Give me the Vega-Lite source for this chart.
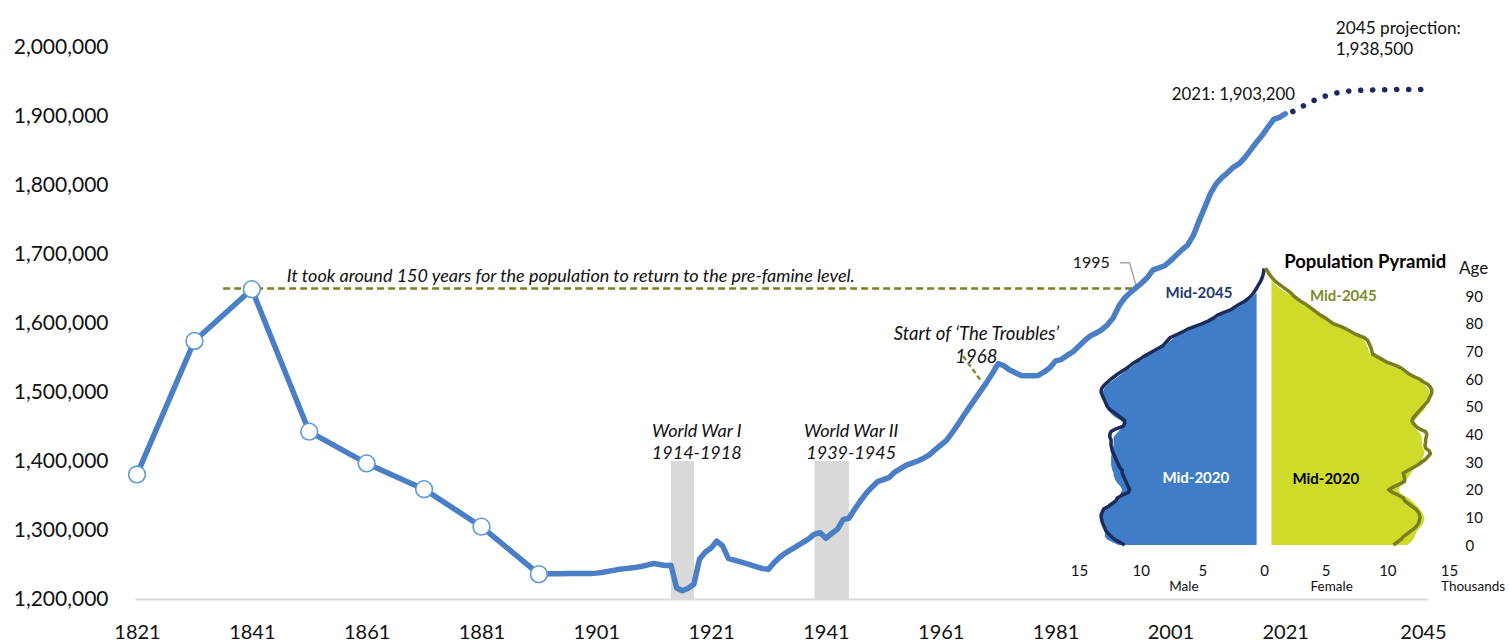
{
"$schema": "https://vega.github.io/schema/vega-lite/v6.json",
"width": 1292, "height": 552,
"autosize": {"type": "none"},
"padding": {"left": 135, "top": 47, "right": 82, "bottom": 42},
"background": "white",
"config": {"view": {"stroke": null}, "font": "Lato", "axis": {"grid": false, "labelFont": "Lato", "labelColor": "#111111"}, "text": {"font": "Lato", "color": "#111111"}},
"datasets": {
"wars": [{"war": "WWI", "start": 1914, "end": 1918}, {"war": "WWII", "start": 1939, "end": 1945}],
"pop": [
{"year":1821,"pop":1380500},{"year":1831,"pop":1574000},{"year":1841,"pop":1649000},{"year":1851,"pop":1442500},{"year":1861,"pop":1396500},{"year":1871,"pop":1359200},{"year":1881,"pop":1304800},{"year":1891,"pop":1236000},
{"year":1892,"pop":1236300},{"year":1893,"pop":1236500},{"year":1894,"pop":1236500},{"year":1895,"pop":1236700},{"year":1896,"pop":1236800},{"year":1897,"pop":1236900},{"year":1898,"pop":1237000},{"year":1899,"pop":1237000},{"year":1900,"pop":1237000},
{"year":1901,"pop":1237500},{"year":1902,"pop":1238500},{"year":1903,"pop":1240000},{"year":1904,"pop":1241500},{"year":1905,"pop":1243000},{"year":1906,"pop":1244000},{"year":1907,"pop":1245000},{"year":1908,"pop":1246000},{"year":1909,"pop":1247500},{"year":1910,"pop":1249500},
{"year":1911,"pop":1251500},{"year":1912,"pop":1250000},{"year":1913,"pop":1248500},{"year":1914,"pop":1249000},{"year":1915,"pop":1216000},{"year":1916,"pop":1212000},{"year":1917,"pop":1215500},{"year":1918,"pop":1221500},{"year":1919,"pop":1258000},{"year":1920,"pop":1268000},
{"year":1921,"pop":1274000},{"year":1922,"pop":1284000},{"year":1923,"pop":1277000},{"year":1924,"pop":1259000},{"year":1925,"pop":1256500},{"year":1926,"pop":1254000},{"year":1927,"pop":1251500},{"year":1928,"pop":1249000},{"year":1929,"pop":1246500},{"year":1930,"pop":1244000},
{"year":1931,"pop":1243000},{"year":1932,"pop":1253000},{"year":1933,"pop":1261000},{"year":1934,"pop":1267000},{"year":1935,"pop":1272000},{"year":1936,"pop":1277000},{"year":1937,"pop":1282000},{"year":1938,"pop":1287000},{"year":1939,"pop":1294000},{"year":1940,"pop":1296000},
{"year":1941,"pop":1288000},{"year":1942,"pop":1295000},{"year":1943,"pop":1301000},{"year":1944,"pop":1315000},{"year":1945,"pop":1317000},{"year":1946,"pop":1330000},{"year":1947,"pop":1342000},{"year":1948,"pop":1353000},{"year":1949,"pop":1362000},{"year":1950,"pop":1370000},
{"year":1951,"pop":1373000},{"year":1952,"pop":1376000},{"year":1953,"pop":1384000},{"year":1954,"pop":1389000},{"year":1955,"pop":1394000},{"year":1956,"pop":1397000},{"year":1957,"pop":1400000},{"year":1958,"pop":1404000},{"year":1959,"pop":1409000},{"year":1960,"pop":1416000},
{"year":1961,"pop":1423000},{"year":1962,"pop":1430000},{"year":1963,"pop":1441000},{"year":1964,"pop":1453000},{"year":1965,"pop":1466000},{"year":1966,"pop":1478000},{"year":1967,"pop":1490000},{"year":1968,"pop":1502000},{"year":1969,"pop":1514000},{"year":1970,"pop":1527000},
{"year":1971,"pop":1541000},{"year":1972,"pop":1538000},{"year":1973,"pop":1532000},{"year":1974,"pop":1528000},{"year":1975,"pop":1524000},{"year":1976,"pop":1523500},{"year":1977,"pop":1523500},{"year":1978,"pop":1524000},{"year":1979,"pop":1529000},{"year":1980,"pop":1535000},
{"year":1981,"pop":1545000},{"year":1982,"pop":1547000},{"year":1983,"pop":1553000},{"year":1984,"pop":1558000},{"year":1985,"pop":1566000},{"year":1986,"pop":1574000},{"year":1987,"pop":1581000},{"year":1988,"pop":1585000},{"year":1989,"pop":1590000},{"year":1990,"pop":1597000},
{"year":1991,"pop":1607000},{"year":1992,"pop":1624000},{"year":1993,"pop":1636000},{"year":1994,"pop":1644000},{"year":1995,"pop":1651000},{"year":1996,"pop":1658000},{"year":1997,"pop":1666000},{"year":1998,"pop":1677000},{"year":1999,"pop":1680000},{"year":2000,"pop":1683000},
{"year":2001,"pop":1690000},{"year":2002,"pop":1698000},{"year":2003,"pop":1706000},{"year":2004,"pop":1713000},{"year":2005,"pop":1727000},{"year":2006,"pop":1748000},{"year":2007,"pop":1768000},{"year":2008,"pop":1788000},{"year":2009,"pop":1802000},{"year":2010,"pop":1811000},
{"year":2011,"pop":1818000},{"year":2012,"pop":1826000},{"year":2013,"pop":1831000},{"year":2014,"pop":1840000},{"year":2015,"pop":1851000},{"year":2016,"pop":1862000},{"year":2017,"pop":1872000},{"year":2018,"pop":1884000},{"year":2019,"pop":1895000},{"year":2020,"pop":1898000},
{"year":2021,"pop":1903200}
],
"proj": [
{"year":2021,"pop":1903200},{"year":2022,"pop":1905000},{"year":2023,"pop":1909500},{"year":2024,"pop":1914000},{"year":2025,"pop":1918500},{"year":2026,"pop":1922500},{"year":2027,"pop":1926000},{"year":2028,"pop":1929000},{"year":2029,"pop":1931500},{"year":2030,"pop":1933500},
{"year":2031,"pop":1935000},{"year":2032,"pop":1936000},{"year":2033,"pop":1936800},{"year":2034,"pop":1937300},{"year":2035,"pop":1937600},{"year":2036,"pop":1937800},{"year":2037,"pop":1938000},{"year":2038,"pop":1938100},{"year":2039,"pop":1938200},{"year":2040,"pop":1938300},
{"year":2041,"pop":1938300},{"year":2042,"pop":1938400},{"year":2043,"pop":1938400},{"year":2044,"pop":1938500},{"year":2045,"pop":1938500}
],
"leader1995": [{"year":1992.2,"pop":1687300},{"year":1993.9,"pop":1687300},{"year":1995.2,"pop":1648700}],
"leader1968": [{"year":1964.9,"pop":1552000},{"year":1968.1,"pop":1515000}],
"pyr": [
{"age":0,"m2020":11.8,"m2045":11.3,"f2020":11.6,"f2045":10.5},
{"age":1,"m2020":12.3,"m2045":11.7,"f2020":11.9,"f2045":10.8},
{"age":2,"m2020":12.7,"m2045":12.1,"f2020":12.1,"f2045":11.1},
{"age":3,"m2020":12.9,"m2045":12.4,"f2020":12.2,"f2045":11.3},
{"age":4,"m2020":12.9,"m2045":12.6,"f2020":12.3,"f2045":11.6},
{"age":5,"m2020":12.9,"m2045":12.8,"f2020":12.4,"f2045":11.9},
{"age":6,"m2020":13.0,"m2045":12.9,"f2020":12.6,"f2045":12.2},
{"age":7,"m2020":13.1,"m2045":13.0,"f2020":12.8,"f2045":12.4},
{"age":8,"m2020":13.2,"m2045":13.1,"f2020":12.9,"f2045":12.55},
{"age":9,"m2020":13.3,"m2045":13.15,"f2020":13.0,"f2045":12.6},
{"age":10,"m2020":13.3,"m2045":13.2,"f2020":13.0,"f2045":12.65},
{"age":11,"m2020":13.2,"m2045":13.2,"f2020":12.9,"f2045":12.6},
{"age":12,"m2020":13.1,"m2045":13.1,"f2020":12.8,"f2045":12.5},
{"age":13,"m2020":12.9,"m2045":13.0,"f2020":12.6,"f2045":12.3},
{"age":14,"m2020":12.6,"m2045":12.6,"f2020":12.4,"f2045":12.0},
{"age":15,"m2020":12.3,"m2045":12.3,"f2020":12.2,"f2045":11.7},
{"age":16,"m2020":12.1,"m2045":12.0,"f2020":12.0,"f2045":11.4},
{"age":17,"m2020":11.9,"m2045":11.9,"f2020":11.7,"f2045":11.3},
{"age":18,"m2020":11.7,"m2045":11.5,"f2020":11.3,"f2045":10.9},
{"age":19,"m2020":11.6,"m2045":11.0,"f2020":11.0,"f2045":10.4},
{"age":20,"m2020":11.5,"m2045":10.9,"f2020":10.9,"f2045":10.1},
{"age":21,"m2020":11.6,"m2045":11.0,"f2020":11.0,"f2045":10.5},
{"age":22,"m2020":11.8,"m2045":11.1,"f2020":11.2,"f2045":11.0},
{"age":23,"m2020":12.0,"m2045":11.2,"f2020":11.4,"f2045":11.4},
{"age":24,"m2020":12.1,"m2045":11.3,"f2020":11.6,"f2045":11.4},
{"age":25,"m2020":12.2,"m2045":11.4,"f2020":11.8,"f2045":11.35},
{"age":26,"m2020":12.2,"m2045":11.5,"f2020":11.9,"f2045":11.3},
{"age":27,"m2020":12.3,"m2045":11.5,"f2020":12.1,"f2045":11.7},
{"age":28,"m2020":12.35,"m2045":11.7,"f2020":12.3,"f2045":12.1},
{"age":29,"m2020":12.4,"m2045":11.8,"f2020":12.5,"f2045":12.5},
{"age":30,"m2020":12.4,"m2045":11.9,"f2020":12.7,"f2045":12.8},
{"age":31,"m2020":12.4,"m2045":12.0,"f2020":12.8,"f2045":13.1},
{"age":32,"m2020":12.4,"m2045":12.1,"f2020":12.9,"f2045":13.3},
{"age":33,"m2020":12.35,"m2045":12.2,"f2020":13.0,"f2045":13.5},
{"age":34,"m2020":12.3,"m2045":12.3,"f2020":13.0,"f2045":13.4},
{"age":35,"m2020":12.25,"m2045":12.35,"f2020":12.9,"f2045":13.1},
{"age":36,"m2020":12.2,"m2045":12.4,"f2020":12.8,"f2045":13.05},
{"age":37,"m2020":12.2,"m2045":12.4,"f2020":12.8,"f2045":13.1},
{"age":38,"m2020":12.2,"m2045":12.4,"f2020":12.8,"f2045":13.1},
{"age":39,"m2020":12.2,"m2045":12.5,"f2020":12.8,"f2045":13.15},
{"age":40,"m2020":12.0,"m2045":12.5,"f2020":12.7,"f2045":13.2},
{"age":41,"m2020":11.8,"m2045":12.4,"f2020":12.5,"f2045":13.1},
{"age":42,"m2020":11.6,"m2045":12.0,"f2020":12.3,"f2045":12.6},
{"age":43,"m2020":11.5,"m2045":11.4,"f2020":12.1,"f2045":12.3},
{"age":44,"m2020":11.4,"m2045":11.3,"f2020":12.1,"f2045":12.1},
{"age":45,"m2020":11.6,"m2045":11.3,"f2020":12.2,"f2045":12.0},
{"age":46,"m2020":12.0,"m2045":11.6,"f2020":12.4,"f2045":12.1},
{"age":47,"m2020":12.3,"m2045":11.9,"f2020":12.6,"f2045":12.3},
{"age":48,"m2020":12.5,"m2045":12.2,"f2020":12.8,"f2045":12.5},
{"age":49,"m2020":12.7,"m2045":12.5,"f2020":13.0,"f2045":12.7},
{"age":50,"m2020":12.8,"m2045":12.7,"f2020":13.1,"f2045":12.9},
{"age":51,"m2020":12.9,"m2045":12.8,"f2020":13.2,"f2045":13.1},
{"age":52,"m2020":13.0,"m2045":12.9,"f2020":13.3,"f2045":13.3},
{"age":53,"m2020":13.1,"m2045":13.0,"f2020":13.35,"f2045":13.4},
{"age":54,"m2020":13.1,"m2045":13.1,"f2020":13.4,"f2045":13.5},
{"age":55,"m2020":13.1,"m2045":13.2,"f2020":13.4,"f2045":13.6},
{"age":56,"m2020":13.0,"m2045":13.2,"f2020":13.35,"f2045":13.6},
{"age":57,"m2020":12.9,"m2045":13.1,"f2020":13.2,"f2045":13.5},
{"age":58,"m2020":12.7,"m2045":12.9,"f2020":13.0,"f2045":13.3},
{"age":59,"m2020":12.4,"m2045":12.65,"f2020":12.7,"f2045":12.9},
{"age":60,"m2020":12.1,"m2045":12.4,"f2020":12.35,"f2045":12.6},
{"age":61,"m2020":11.8,"m2045":12.1,"f2020":11.9,"f2045":12.1},
{"age":62,"m2020":11.5,"m2045":11.8,"f2020":11.5,"f2045":11.7},
{"age":63,"m2020":11.2,"m2045":11.45,"f2020":11.2,"f2045":11.4},
{"age":64,"m2020":10.85,"m2045":11.1,"f2020":10.85,"f2045":11.1},
{"age":65,"m2020":10.55,"m2045":10.8,"f2020":10.35,"f2045":10.6},
{"age":66,"m2020":10.25,"m2045":10.5,"f2020":9.8,"f2045":10.0},
{"age":67,"m2020":9.85,"m2045":10.1,"f2020":9.35,"f2045":9.6},
{"age":68,"m2020":9.55,"m2045":9.8,"f2020":8.95,"f2045":9.2},
{"age":69,"m2020":9.15,"m2045":9.4,"f2020":8.6,"f2045":8.8},
{"age":70,"m2020":8.8,"m2045":9.0,"f2020":8.5,"f2045":8.75},
{"age":71,"m2020":8.4,"m2045":8.6,"f2020":8.45,"f2045":8.7},
{"age":72,"m2020":8.0,"m2045":8.2,"f2020":8.35,"f2045":8.6},
{"age":73,"m2020":7.8,"m2045":8.0,"f2020":8.25,"f2045":8.5},
{"age":74,"m2020":7.55,"m2045":7.8,"f2020":8.1,"f2045":8.4},
{"age":75,"m2020":7.3,"m2045":7.6,"f2020":7.8,"f2045":8.1},
{"age":76,"m2020":6.85,"m2045":7.1,"f2020":7.25,"f2045":7.5},
{"age":77,"m2020":6.35,"m2045":6.6,"f2020":6.85,"f2045":7.1},
{"age":78,"m2020":5.95,"m2045":6.2,"f2020":6.45,"f2045":6.7},
{"age":79,"m2020":5.4,"m2045":5.6,"f2020":5.95,"f2045":6.2},
{"age":80,"m2020":4.8,"m2045":5.0,"f2020":5.4,"f2045":5.6},
{"age":81,"m2020":4.3,"m2045":4.5,"f2020":5.1,"f2045":5.3},
{"age":82,"m2020":3.9,"m2045":4.1,"f2020":4.8,"f2045":5.0},
{"age":83,"m2020":3.5,"m2045":3.8,"f2020":4.4,"f2045":4.6},
{"age":84,"m2020":3.0,"m2045":3.3,"f2020":4.1,"f2045":4.3},
{"age":85,"m2020":2.5,"m2045":2.7,"f2020":3.8,"f2045":4.0},
{"age":86,"m2020":2.1,"m2045":2.35,"f2020":3.5,"f2045":3.7},
{"age":87,"m2020":1.75,"m2045":2.0,"f2020":3.2,"f2045":3.4},
{"age":88,"m2020":1.4,"m2045":1.6,"f2020":2.8,"f2045":3.0},
{"age":89,"m2020":1.1,"m2045":1.3,"f2020":2.5,"f2045":2.7},
{"age":90,"m2020":0.85,"m2045":1.05,"f2020":2.2,"f2045":2.4},
{"age":91,"m2020":0.65,"m2045":0.87,"f2020":1.85,"f2045":2.2},
{"age":92,"m2045":0.72,"f2020":1.5,"f2045":1.9},
{"age":93,"m2045":0.58,"f2020":1.2,"f2045":1.6},
{"age":94,"m2045":0.45,"f2020":0.95,"f2045":1.3},
{"age":95,"m2045":0.32,"f2020":0.75,"f2045":1.0},
{"age":96,"m2045":0.2,"f2020":0.6,"f2045":0.78},
{"age":97,"m2045":0.12,"f2045":0.58},
{"age":98,"m2045":0.06,"f2045":0.42},
{"age":99,"m2045":0.02,"f2045":0.28},
{"age":100,"m2045":0,"f2045":0.12}
]
},
"layer": [
{
"layer": [
{"data": {"name": "wars"}, "mark": {"type": "rect", "color": "#D9D9D9"},
 "encoding": {
  "x": {"field": "start", "type": "quantitative", "scale": {"domain": [1820.65, 2045.7], "nice": false, "zero": false},
        "axis": {"values": [1821,1841,1861,1881,1901,1921,1941,1961,1981,2001,2021,2045], "labelExpr": "format(datum.value, 'd')", "title": null, "tickSize": 0, "labelPadding": 23, "labelFontSize": 20, "domainColor": "#D9D9D9", "domainWidth": 2, "labelFlush": false, "labelOverlap": false}},
  "x2": {"field": "end"},
  "y": {"datum": 1200000, "type": "quantitative", "scale": {"domain": [1200000, 2000000], "nice": false, "zero": false},
        "axis": {"values": [1200000,1300000,1400000,1500000,1600000,1700000,1800000,1900000,2000000], "labelExpr": "format(datum.value, ',')", "title": null, "tickSize": 0, "labelPadding": 27, "labelFontSize": 21, "domain": false}},
  "y2": {"datum": 1400000}}},
{"data": {"values": [{}]}, "mark": {"type": "rule", "color": "#7F801F", "strokeWidth": 2.5, "strokeDash": [7, 4]},
 "encoding": {"x": {"datum": 1836}, "x2": {"datum": 1995}, "y": {"datum": 1650000}}},
{"data": {"name": "leader1995"}, "mark": {"type": "line", "color": "#A6A6A6", "strokeWidth": 1.5},
 "encoding": {"x": {"field": "year", "type": "quantitative"}, "y": {"field": "pop", "type": "quantitative"}}},
{"data": {"name": "leader1968"}, "mark": {"type": "line", "color": "#7F801F", "strokeWidth": 2.2, "strokeDash": [5, 3]},
 "encoding": {"x": {"field": "year", "type": "quantitative"}, "y": {"field": "pop", "type": "quantitative"}}},
{"data": {"name": "pop"}, "mark": {"type": "line", "color": "#4A7EC5", "strokeWidth": 5.5, "strokeJoin": "round", "strokeCap": "round"},
 "encoding": {"x": {"field": "year", "type": "quantitative"}, "y": {"field": "pop", "type": "quantitative"}}},
{"data": {"name": "pop"}, "transform": [{"filter": "datum.year <= 1891"}],
 "mark": {"type": "point", "filled": true, "fill": "white", "stroke": "#5B9BD5", "strokeWidth": 1.6, "size": 280, "opacity": 1},
 "encoding": {"x": {"field": "year", "type": "quantitative"}, "y": {"field": "pop", "type": "quantitative"}}},
{"data": {"name": "proj"}, "mark": {"type": "line", "color": "#1F2B5E", "strokeWidth": 5.5, "strokeCap": "round", "strokeDash": [0.1, 11.9], "strokeDashOffset": 4},
 "encoding": {"x": {"field": "year", "type": "quantitative"}, "y": {"field": "pop", "type": "quantitative"}}},
{"data": {"values": [{}]}, "mark": {"type": "text", "align": "left", "baseline": "middle", "fontSize": 18, "fontStyle": "italic"},
 "encoding": {"x": {"datum": 1847.1}, "y": {"datum": 1666600}, "text": {"value": "It took around 150 years for the population to return to the pre-famine level."}}},
{"data": {"values": [{}]}, "mark": {"type": "text", "align": "center", "baseline": "middle", "fontSize": 18, "fontStyle": "italic", "lineHeight": 22},
 "encoding": {"x": {"datum": 1918.5}, "y": {"datum": 1442400}, "text": {"value": ["World War I", "1914-1918"]}}},
{"data": {"values": [{}]}, "mark": {"type": "text", "align": "center", "baseline": "middle", "fontSize": 18, "fontStyle": "italic", "lineHeight": 22},
 "encoding": {"x": {"datum": 1945.4}, "y": {"datum": 1442400}, "text": {"value": ["World War II", "1939-1945"]}}},
{"data": {"values": [{}]}, "mark": {"type": "text", "align": "center", "baseline": "middle", "fontSize": 18.5, "fontStyle": "italic", "lineHeight": 23},
 "encoding": {"x": {"datum": 1967.2}, "y": {"datum": 1584700}, "text": {"value": ["Start of ‘The Troubles’", "1968"]}}},
{"data": {"values": [{}]}, "mark": {"type": "text", "align": "right", "baseline": "middle", "fontSize": 16},
 "encoding": {"x": {"datum": 1990.45}, "y": {"datum": 1686400}, "text": {"value": "1995"}}},
{"data": {"values": [{}]}, "mark": {"type": "text", "align": "right", "baseline": "middle", "fontSize": 16.8},
 "encoding": {"x": {"datum": 2022.7}, "y": {"datum": 1930300}, "text": {"value": "2021: 1,903,200"}}},
{"data": {"values": [{}]}, "mark": {"type": "text", "align": "left", "baseline": "middle", "fontSize": 17.2, "lineHeight": 21},
 "encoding": {"x": {"datum": 2029.8}, "y": {"datum": 2026200}, "text": {"value": ["2045 projection:", "1,938,500"]}}}
]
},
{
"data": {"name": "pyr"},
"layer": [
{"mark": {"type": "area", "orient": "horizontal", "color": "#407DC8"},
 "encoding": {
  "y": {"field": "age", "type": "quantitative", "scale": {"domain": [0, 90], "range": [498, 249], "nice": false, "zero": false}, "axis": null},
  "x": {"field": "m2020", "type": "quantitative", "scale": {"domain": [15, 0], "range": [944, 1129], "nice": false, "zero": false},
        "axis": {"orient": "bottom", "values": [5, 10, 15], "labelExpr": "format(datum.value, 'd')", "title": null, "tickSize": 0, "domain": false, "labelPadding": 2, "offset": -38, "labelFontSize": 15, "labelFlush": false}},
  "x2": {"datum": 0.6}}},
{"mark": {"type": "line", "color": "#1B2B5B", "strokeWidth": 3.5, "strokeJoin": "round"},
 "encoding": {"y": {"field": "age", "type": "quantitative", "axis": null}, "x": {"field": "m2045", "type": "quantitative"}, "order": {"field": "age"}}},
{"data": {"values": [{}]}, "mark": {"type": "text", "align": "center", "baseline": "middle", "fontSize": 15, "fontWeight": "bold", "color": "#1F3A6E"},
 "encoding": {"x": {"datum": 5.27}, "y": {"datum": 91.1, "axis": null}, "text": {"value": "Mid-2045"}}},
{"data": {"values": [{}]}, "mark": {"type": "text", "align": "center", "baseline": "middle", "fontSize": 15, "fontWeight": "bold", "color": "white"},
 "encoding": {"x": {"datum": 5.53}, "y": {"datum": 24.1, "axis": null}, "text": {"value": "Mid-2020"}}},
{"data": {"values": [{}]}, "mark": {"type": "text", "align": "center", "baseline": "middle", "fontSize": 13.5},
 "encoding": {"x": {"datum": 6.49}, "y": {"datum": -15.2, "axis": null}, "text": {"value": "Male"}}}
]
},
{
"data": {"name": "pyr"},
"layer": [
{"mark": {"type": "area", "orient": "horizontal", "color": "#CEDB29"},
 "encoding": {
  "y": {"field": "age", "type": "quantitative", "scale": {"domain": [0, 90], "range": [498, 249], "nice": false, "zero": false},
        "axis": {"orient": "right", "values": [0,10,20,30,40,50,60,70,80,90], "labelExpr": "format(datum.value, 'd')", "title": null, "tickSize": 0, "domain": false, "labelPadding": 38, "labelFontSize": 15, "labelAlign": "left", "labelBaseline": "middle", "labelFlush": false}},
  "x": {"field": "f2020", "type": "quantitative", "scale": {"domain": [0, 15], "range": [1129, 1314], "nice": false, "zero": false},
        "axis": {"orient": "bottom", "values": [0, 5, 10, 15], "labelExpr": "format(datum.value, 'd')", "title": null, "tickSize": 0, "domain": false, "labelPadding": 2, "offset": -38, "labelFontSize": 15, "labelFlush": false}},
  "x2": {"datum": 0.6}}},
{"mark": {"type": "line", "color": "#7B7E1F", "strokeWidth": 3.5, "strokeJoin": "round"},
 "encoding": {"y": {"field": "age", "type": "quantitative"}, "x": {"field": "f2045", "type": "quantitative"}, "order": {"field": "age"}}},
{"data": {"values": [{}]}, "mark": {"type": "text", "align": "center", "baseline": "middle", "fontSize": 15, "fontWeight": "bold", "color": "#7F8A2E"},
 "encoding": {"x": {"datum": 6.43}, "y": {"datum": 89.9}, "text": {"value": "Mid-2045"}}},
{"data": {"values": [{}]}, "mark": {"type": "text", "align": "center", "baseline": "middle", "fontSize": 15, "fontWeight": "bold", "color": "#000000"},
 "encoding": {"x": {"datum": 5.01}, "y": {"datum": 23.7}, "text": {"value": "Mid-2020"}}},
{"data": {"values": [{}]}, "mark": {"type": "text", "align": "center", "baseline": "middle", "fontSize": 13.5},
 "encoding": {"x": {"datum": 5.49}, "y": {"datum": -15.3}, "text": {"value": "Female"}}},
{"data": {"values": [{}]}, "mark": {"type": "text", "align": "center", "baseline": "middle", "fontSize": 13.5},
 "encoding": {"x": {"datum": 16.95}, "y": {"datum": -15.2}, "text": {"value": "Thousands"}}},
{"data": {"values": [{}]}, "mark": {"type": "text", "align": "center", "baseline": "middle", "fontSize": 18.5, "fontWeight": "bold", "color": "#000000"},
 "encoding": {"x": {"datum": 8.2}, "y": {"datum": 102.3}, "text": {"value": "Population Pyramid"}}},
{"data": {"values": [{}]}, "mark": {"type": "text", "align": "center", "baseline": "middle", "fontSize": 17},
 "encoding": {"x": {"datum": 17.0}, "y": {"datum": 99.9}, "text": {"value": "Age"}}}
]
}
],
"resolve": {"scale": {"x": "independent", "y": "independent"}}
}
